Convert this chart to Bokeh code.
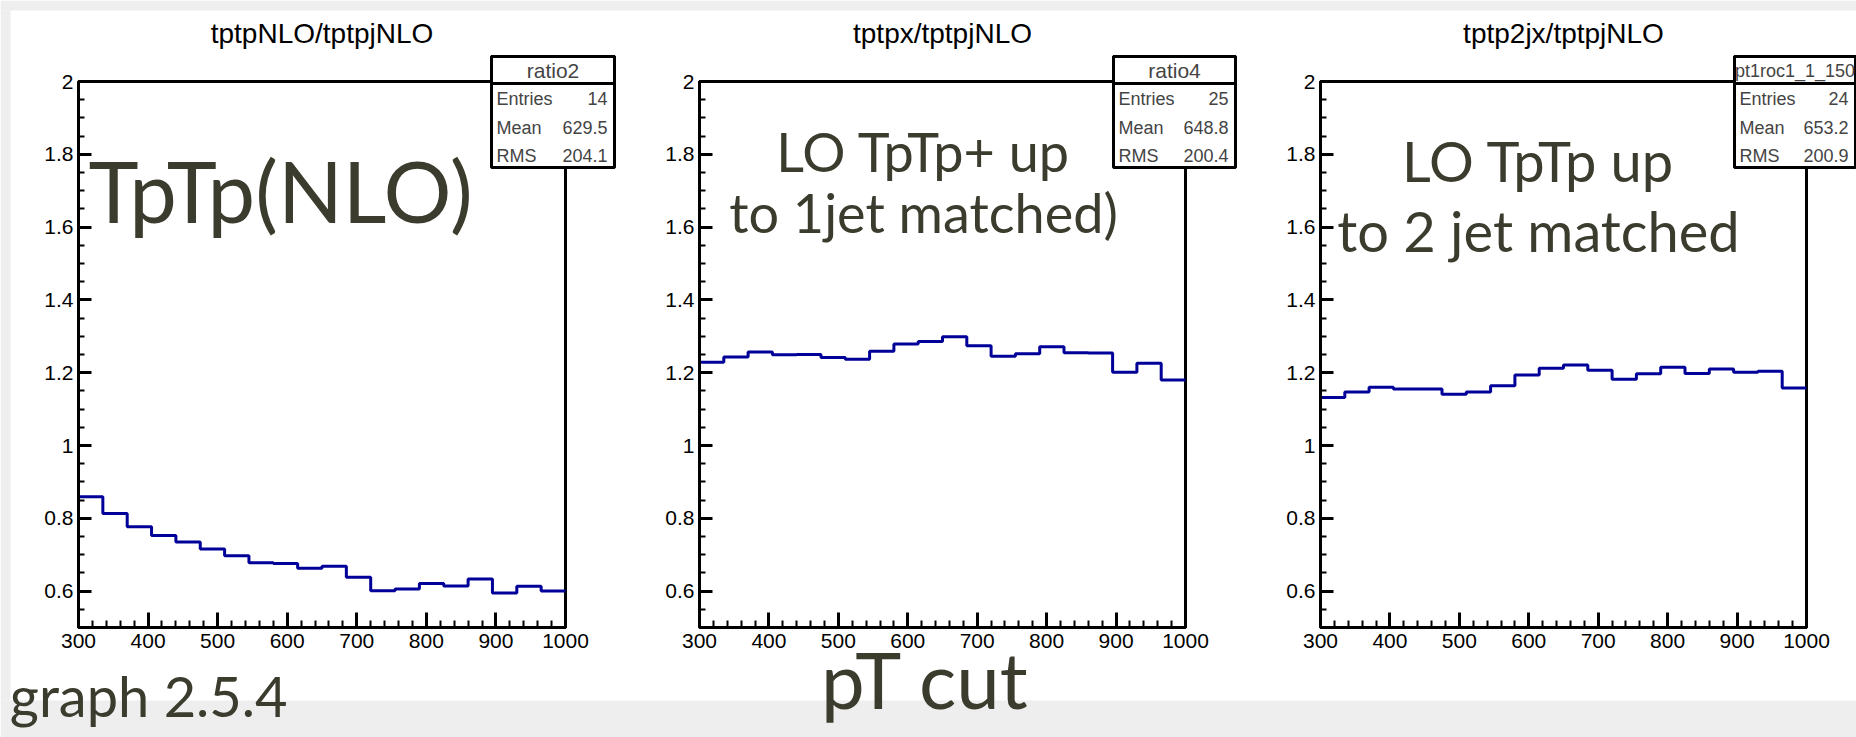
import numpy as np
from bokeh.plotting import figure
from bokeh.models import (FixedTicker, Label, BoxAnnotation, CustomJSTickFormatter,
                          LinearAxis, Range1d)
from bokeh.embed import file_html
from bokeh.resources import INLINE

# ---------------- data ----------------
bin_low, bin_high, n_bins = 300, 1000, 20
y_low, y_high = 0.5, 2.0
ratio2 = [0.859, 0.813, 0.777, 0.753, 0.735, 0.716, 0.697, 0.678, 0.676, 0.663,
          0.668, 0.638, 0.601, 0.606, 0.621, 0.614, 0.633, 0.595, 0.613, 0.600]
ratio4 = [1.229, 1.243, 1.257, 1.249, 1.250, 1.242, 1.237, 1.259, 1.279, 1.286,
          1.299, 1.274, 1.245, 1.252, 1.271, 1.255, 1.254, 1.201, 1.226, 1.180]
ratio2j = [1.132, 1.147, 1.160, 1.155, 1.155, 1.141, 1.147, 1.164, 1.194, 1.212,
           1.221, 1.207, 1.182, 1.197, 1.215, 1.198, 1.210, 1.201, 1.204, 1.158]
series = [ratio2, ratio4, ratio2j]
titles = ["tptpNLO/tptpjNLO", "tptpx/tptpjNLO", "tptp2jx/tptpjNLO"]
stat_names = ["ratio2", "ratio4", "pt1roc1_1_150"]
entries = ["14", "25", "24"]
means = ["629.5", "648.8", "653.2"]
rms = ["204.1", "200.4", "200.9"]
x_major = [300, 400, 500, 600, 700, 800, 900, 1000]
y_major = [0.6, 0.8, 1, 1.2, 1.4, 1.6, 1.8, 2]
big_texts = [["TpTp(NLO)"], ["LO TpTp+ up", "to 1jet matched)"], ["LO TpTp up", "to 2 jet matched"]]
footer_left = "graph 2.5.4"
footer_mid = "pT cut"

# ---------------- layout (page pixels) ----------------
W, H = 1856, 737
FT, FB = 81, 627                      # frame top / bottom in page pixels
frames = [(78, 565), (699, 1185), (1320, 1806)]
boxes = [(491, 614), (1113, 1235), (1734, 1855)]
hdr_sizes = ["21px", "21px", "18px"]
TXT = "#3b3b2e"
BLUE = "#000099"
GREY = "#eeeeee"
FONT = "Liberation Sans"
BIG = "Lato"
BASE_SHIFT = 0.48   # empirical offset (in em) between requested and drawn baseline

x_minor = list(range(300, 1001, 20))
y_minor = [round(0.5 + 0.05 * k, 2) for k in range(31)]

p = figure(width=W, height=H, x_range=Range1d(0, W), y_range=Range1d(H, 0),
           x_axis_location=None, y_axis_location=None, min_border=0,
           toolbar_location=None, output_backend="svg")
p.grid.visible = False
p.outline_line_color = None
p.background_fill_color = "white"
p.border_fill_color = "white"

k = (y_high - y_low) / (FB - FT)
p.extra_y_ranges = {"yv": Range1d(start=y_high - (H - FT) * k, end=y_high + FT * k)}
xr = {}
for i, (fl, fr) in enumerate(frames):
    s = (bin_high - bin_low) / (fr - fl)
    xr[f"x{i}"] = Range1d(start=bin_low - fl * s, end=bin_low + (W - fl) * s)
p.extra_x_ranges = xr

# slide background bands
p.add_layout(BoxAnnotation(left=0, right=W, top=700, bottom=H, fill_color=GREY, fill_alpha=1,
                           line_color=None, level="underlay"))
p.add_layout(BoxAnnotation(left=0, right=W, top=0, bottom=10, fill_color=GREY, fill_alpha=1,
                           line_color=None, level="underlay"))
p.add_layout(BoxAnnotation(left=0, right=10, top=10, bottom=700, fill_color=GREY, fill_alpha=1,
                           line_color=None, level="underlay"))

edges = np.linspace(bin_low, bin_high, n_bins + 1)

for i, (fl, fr) in enumerate(frames):
    xn = f"x{i}"
    p.quad(left=bin_low, right=bin_high, bottom=y_low, top=y_high, fill_color=None,
           line_color="black", line_width=3, x_range_name=xn, y_range_name="yv")
    vals = series[i]
    p.step(edges, list(vals) + [vals[-1]], mode="after", line_color=BLUE, line_width=3,
           x_range_name=xn, y_range_name="yv")

    xa = LinearAxis(x_range_name=xn, y_range_name="yv", fixed_location=y_low,
                    bounds=(bin_low, bin_high),
                    ticker=FixedTicker(ticks=x_major, minor_ticks=x_minor))
    ya = LinearAxis(x_range_name=xn, y_range_name="yv", fixed_location=bin_low,
                    bounds=(y_low, y_high),
                    ticker=FixedTicker(ticks=y_major, minor_ticks=y_minor),
                    formatter=CustomJSTickFormatter(code="return String(Math.round(tick*100)/100)"))
    for ax in (xa, ya):
        ax.axis_line_width = 3
        ax.major_tick_out = 0
        ax.minor_tick_out = 0
        ax.major_tick_line_width = 3
        ax.minor_tick_line_width = 2
        ax.major_label_text_font = FONT
        ax.major_label_text_font_size = "21px"
        ax.major_label_text_color = "black"
    xa.major_tick_in = 15
    xa.minor_tick_in = 7
    ya.major_tick_in = 13
    ya.minor_tick_in = 6
    xa.major_label_standoff = 6
    ya.major_label_standoff = 5
    p.add_layout(xa, "below")
    p.add_layout(ya, "left")

    p.add_layout(Label(x=(fl + fr) / 2, y=33, text=titles[i], text_font=FONT,
                       text_font_size="28px", text_align="center", text_baseline="middle",
                       text_color="black"))

    bl, br = boxes[i]
    p.add_layout(BoxAnnotation(left=bl, right=br, top=56, bottom=167, fill_color="white",
                               fill_alpha=1, line_color="black", line_width=3, line_alpha=1))
    p.add_layout(BoxAnnotation(left=bl, right=br, top=56, bottom=83, fill_color="white",
                               fill_alpha=1, line_color="black", line_width=3, line_alpha=1))
    p.add_layout(Label(x=(bl + br) / 2, y=70, text=stat_names[i], text_font=FONT,
                       text_font_size=hdr_sizes[i], text_align="center", text_baseline="middle"))
    for name, v, yy in (("Entries", entries[i], 98), ("Mean", means[i], 127), ("RMS", rms[i], 155)):
        p.add_layout(Label(x=bl + 5, y=yy, text=name, text_font=FONT, text_font_size="18px",
                           text_align="left", text_baseline="middle"))
        p.add_layout(Label(x=br - 7, y=yy, text=v, text_font=FONT, text_font_size="18px",
                           text_align="right", text_baseline="middle"))


def big_label(x, baseline, text, size, align):
    p.add_layout(Label(x=x, y=baseline - BASE_SHIFT * size, text=text, text_font=BIG,
                       text_font_size=f"{size}px", text_align=align,
                       text_baseline="alphabetic", text_color=TXT))


big_label(88, 230, big_texts[0][0], 85, "left")
for line, base in zip(big_texts[1], (177, 238)):
    big_label(923, base, line, 54, "center")
for line, base in zip(big_texts[2], (187, 257)):
    big_label(1538, base, line, 56, "center")
big_label(287, 722, footer_left, 56, "right")
big_label(925, 716, footer_mid, 78, "center")

open("out.html", "w").write(file_html(p, INLINE))
